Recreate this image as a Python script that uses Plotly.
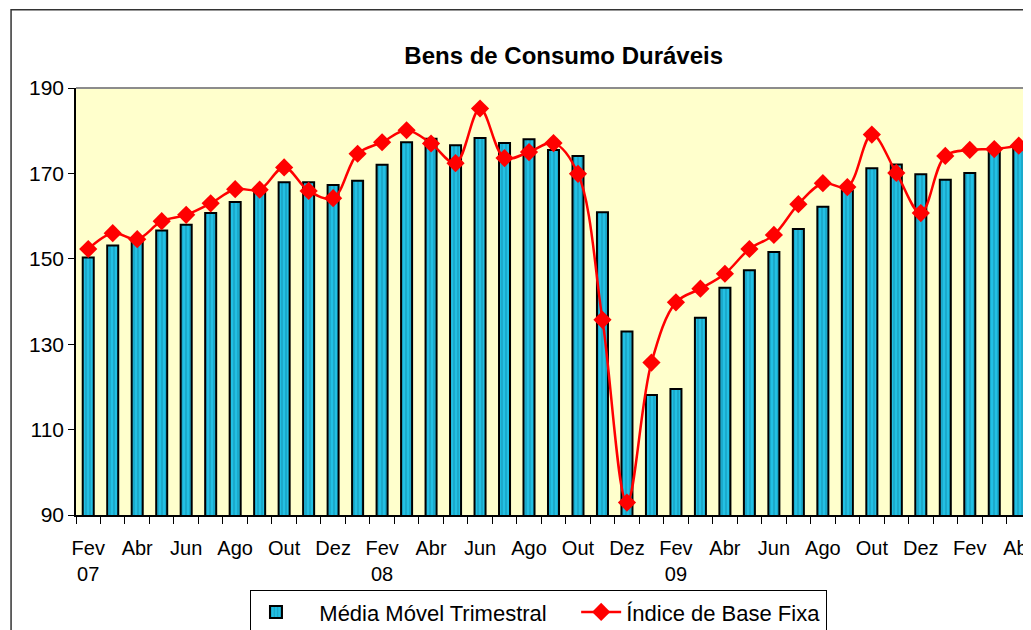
import plotly.graph_objects as go

# ── Data ─────────────────────────────────────────────────────────────────────
meses = [
    "Fev 07", "Mar 07", "Abr 07", "Mai 07", "Jun 07", "Jul 07", "Ago 07", "Set 07",
    "Out 07", "Nov 07", "Dez 07", "Jan 08", "Fev 08", "Mar 08", "Abr 08", "Mai 08",
    "Jun 08", "Jul 08", "Ago 08", "Set 08", "Out 08", "Nov 08", "Dez 08", "Jan 09",
    "Fev 09", "Mar 09", "Abr 09", "Mai 09", "Jun 09", "Jul 09", "Ago 09", "Set 09",
    "Out 09", "Nov 09", "Dez 09", "Jan 10", "Fev 10", "Mar 10", "Abr 10",
]
media_movel = [
    150.3, 153.1, 154.4, 156.6, 158.0, 160.7, 163.3, 165.4,
    167.9, 167.9, 167.3, 168.3, 172.0, 177.3, 178.1, 176.6,
    178.3, 177.1, 178.0, 175.5, 174.1, 160.9, 133.0, 118.1,
    119.5, 136.2, 143.2, 147.3, 151.6, 157.0, 162.2, 165.9,
    171.2, 172.1, 169.8, 168.5, 170.1, 175.6, 176.3,
]
indice_base_fixa = [
    152.3, 156.0, 154.6, 158.8, 160.3, 163.0, 166.3, 166.2,
    171.4, 165.9, 164.2, 174.6, 177.3, 180.1, 177.0, 172.4,
    185.2, 173.6, 175.0, 177.1, 169.9, 135.7, 92.9, 125.7,
    139.8, 143.0, 146.5, 152.3, 155.6, 162.8, 167.7, 166.8,
    179.1, 170.1, 160.7, 174.1, 175.5, 175.7, 176.5,
]

FONT = "Arial, Liberation Sans, sans-serif"
NBSP = "\u00a0"

x = list(range(len(meses)))
# label every second month, year shown under February
tick_idx = x[::2]
tick_txt = []
for i in tick_idx:
    mes, ano = meses[i].split()
    tick_txt.append(f"{mes}<br>{ano}" if mes == "Fev" and ano != "10" else mes)

fig = go.Figure()
fig.add_trace(go.Bar(
    x=x, y=media_movel,
    name=NBSP * 3 + "Média Móvel Trimestral" + NBSP * 4,
    width=0.45,
    marker=dict(
        color="#22c0e4",
        line=dict(color="#000000", width=2),
        pattern=dict(shape="|", fgcolor="#0f7f9c", bgcolor="#22c0e4",
                     size=4, solidity=0.35),
    ),
))
fig.add_trace(go.Scatter(
    x=x, y=indice_base_fixa,
    name="Índice de Base Fixa",
    mode="lines+markers",
    line=dict(color="#ff0000", width=2.5, shape="spline", smoothing=1.0),
    marker=dict(symbol="diamond", size=14, color="#ff0000"),
))

# the page body adds an 8px offset, so margins are set 8px smaller
fig.update_layout(
    width=1031, height=630,
    margin=dict(l=68, r=8, t=80, b=123, autoexpand=False),
    paper_bgcolor="#ffffff",
    plot_bgcolor="#ffffcc",
    font=dict(family=FONT, color="#000000", size=20),
    title=dict(text="<b>Bens de Consumo Duráveis</b>", x=0.539, xanchor="center",
               y=0.925, yanchor="middle", font=dict(size=24, family=FONT)),
    showlegend=True,
    legend=dict(orientation="h", xref="container", yref="container",
                x=0.2347, xanchor="left", y=0.076, yanchor="top",
                bgcolor="#ffffff", bordercolor="#000000", borderwidth=1,
                font=dict(size=22, family=FONT), itemwidth=40),
)
fig.update_xaxes(
    range=[-0.5, len(meses) - 0.5],
    tickvals=tick_idx, ticktext=tick_txt,
    ticks="", showgrid=False, zeroline=False,
    showline=True, linecolor="#000000", linewidth=1.5,
    tickfont=dict(size=20, family=FONT),
    ticklabelstandoff=14,
    minor=dict(ticks="outside", tick0=-0.5, dtick=1, ticklen=7,
               tickcolor="#000000", tickwidth=1, showgrid=False),
)
fig.update_yaxes(
    range=[90, 190], tick0=90, dtick=20,
    ticks="outside", ticklen=6, tickcolor="#000000",
    showgrid=False, zeroline=False,
    showline=True, linecolor="#000000", linewidth=1.5,
    tickfont=dict(size=21, family=FONT),
)

# plot-area frame (gray top edge) and outer chart border
fig.add_shape(type="line", xref="paper", yref="paper", x0=0, x1=1, y0=1, y1=1,
              line=dict(color="#8c8c8c", width=2))
fig.add_shape(type="rect", xref="paper", yref="paper",
              x0=-0.068, x1=1.2, y0=-0.6, y1=1.183,
              line=dict(color="#333333", width=1.5), layer="below")

fig.write_html("out.html")
